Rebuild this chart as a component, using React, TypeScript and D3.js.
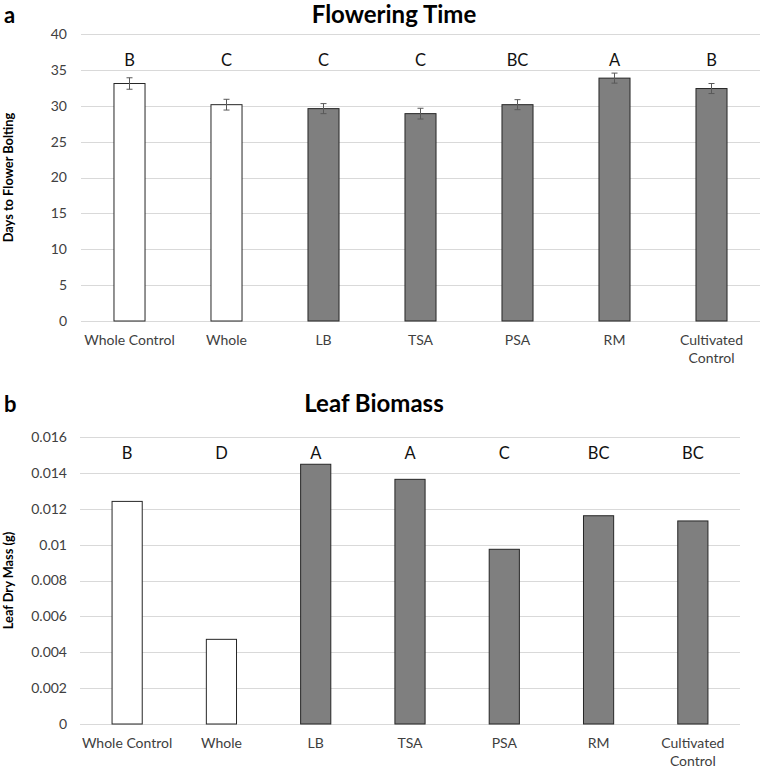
import React from "react";
import * as d3 from "d3";

const categories = ["Whole Control", "Whole", "LB", "TSA", "PSA", "RM", "Cultivated Control"];
const groups = ["whole", "whole", "part", "part", "part", "part", "part"];

const flowerDays = [33.1, 30.15, 29.6, 28.9, 30.15, 33.85, 32.4];
const flowerErr = [0.8, 0.75, 0.7, 0.75, 0.7, 0.7, 0.7];
const flowerLetters = ["B", "C", "C", "C", "BC", "A", "B"];
const flowerTicks = [0, 5, 10, 15, 20, 25, 30, 35, 40];

const biomass = [0.01241, 0.00472, 0.01448, 0.01364, 0.00974, 0.01161, 0.01132];
const biomassLetters = ["B", "D", "A", "A", "C", "BC", "BC"];
const biomassTicks = [0, 0.002, 0.004, 0.006, 0.008, 0.01, 0.012, 0.014, 0.016];

const FONT = "Lato, 'Open Sans', sans-serif";

type PanelProps = {
  tag: string;
  title: string;
  titleX: number;
  titleY: number;
  yLabel: string;
  values: number[];
  errors?: number[];
  letters: string[];
  ticks: number[];
  yMax: number;
  x0: number;
  x1: number;
  y0: number;
  y1: number;
  letterY: number;
  catY: number;
  fmt: (v: number) => string;
};

function Panel(p: PanelProps) {
  const x = d3.scaleBand<string>().domain(categories).range([p.x0, p.x1]).paddingInner(0.68).paddingOuter(0.34);
  const y = d3.scaleLinear().domain([0, p.yMax]).range([p.y0, p.y1]);
  const bw = x.bandwidth();
  return (
    <g>
      <text x={4} y={p.titleY} fontFamily={FONT} fontWeight={700} fontSize={22} fill="#000">{p.tag}</text>
      <text x={p.titleX} y={p.titleY} textAnchor="middle" fontFamily={FONT} fontWeight={700} fontSize={24} fill="#000">{p.title}</text>
      {p.ticks.map((t) => (
        <g key={t}>
          <line x1={p.x0} x2={p.x1} y1={Math.round(y(t)) + 0.5} y2={Math.round(y(t)) + 0.5} stroke="#d9d9d9" strokeWidth={1} />
          <text x={67} y={y(t)} dy="0.35em" textAnchor="end" fontFamily={FONT} fontSize={14} fill="#404040">{p.fmt(t)}</text>
        </g>
      ))}
      <text
        transform={`translate(13,${(p.y0 + p.y1) / 2}) rotate(-90)`}
        textAnchor="middle"
        fontFamily={FONT}
        fontWeight={700}
        fontSize={12.8}
        fill="#000"
      >{p.yLabel}</text>
      {categories.map((c, i) => {
        const bx = x(c)!;
        const v = p.values[i];
        const fill = groups[i] === "whole" ? "#ffffff" : "#7f7f7f";
        const cx = bx + bw / 2;
        const words = c.length > 14 ? c.split(" ") : [c];
        return (
          <g key={c}>
            <rect x={bx} y={y(v)} width={bw} height={p.y0 - y(v)} fill={fill} stroke="#262626" strokeWidth={1} />
            {p.errors && (
              <g stroke="#595959" strokeWidth={1}>
                <line x1={cx} x2={cx} y1={y(v + p.errors[i])} y2={y(v - p.errors[i])} />
                <line x1={cx - 3} x2={cx + 3} y1={y(v + p.errors[i])} y2={y(v + p.errors[i])} />
                <line x1={cx - 3} x2={cx + 3} y1={y(v - p.errors[i])} y2={y(v - p.errors[i])} />
              </g>
            )}
            <text x={cx} y={p.letterY} dy="0.35em" textAnchor="middle" fontFamily={FONT} fontWeight={400} fontSize={16.5} fill="#111">{p.letters[i]}</text>
            {words.map((w, k) => (
              <text key={k} x={cx} y={p.catY + k * 18} dy="0.35em" textAnchor="middle" fontFamily={FONT} fontSize={14} fill="#404040">{w}</text>
            ))}
          </g>
        );
      })}
    </g>
  );
}

export default function App() {
  return (
    <svg width={761} height={768} style={{ position: "absolute", left: 0, top: 0, background: "#fff" }}>
      <rect width={761} height={768} fill="#fff" />
      <Panel
        tag="a"
        title="Flowering Time"
        titleX={394}
        titleY={23}
        yLabel="Days to Flower Bolting"
        values={flowerDays}
        errors={flowerErr}
        letters={flowerLetters}
        ticks={flowerTicks}
        yMax={40}
        x0={81}
        x1={760}
        y0={321}
        y1={34}
        letterY={60}
        catY={340}
        fmt={(v) => String(v)}
      />
      <Panel
        tag="b"
        title="Leaf Biomass"
        titleX={374}
        titleY={412}
        yLabel="Leaf Dry Mass (g)"
        values={biomass}
        letters={biomassLetters}
        ticks={biomassTicks}
        yMax={0.016}
        x0={80}
        x1={740}
        y0={724}
        y1={437}
        letterY={453}
        catY={743}
        fmt={(v) => String(+v.toFixed(3))}
      />
    </svg>
  );
}
